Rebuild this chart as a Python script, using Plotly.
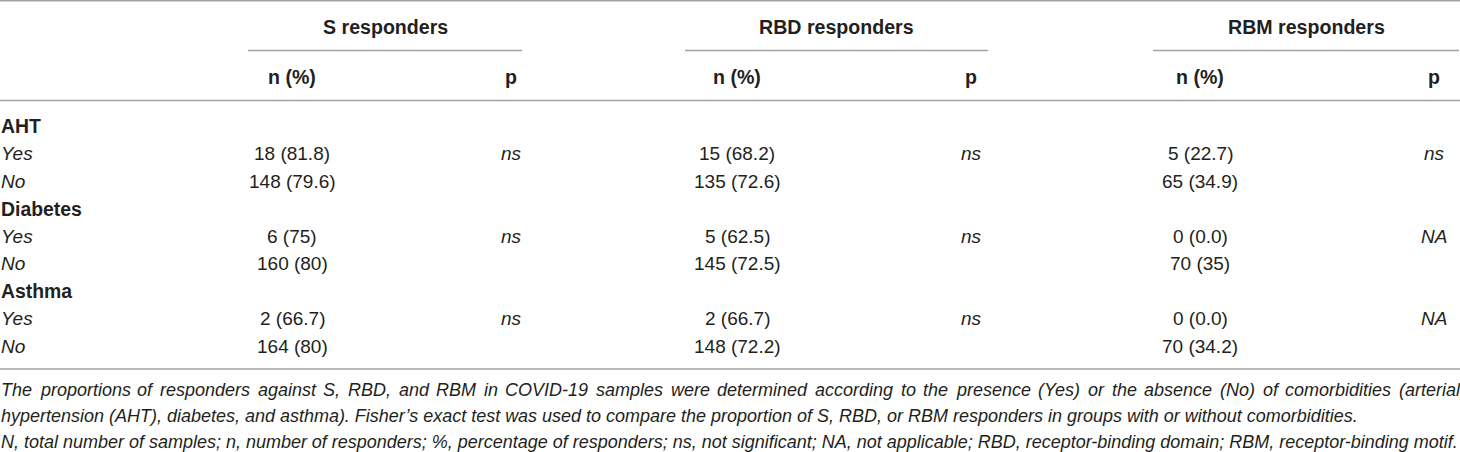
import plotly.graph_objects as go

# ---------------- data ----------------
groups = ["S responders", "RBD responders", "RBM responders"]
sub_headers = ["n (%)", "p"]
row_labels = ["AHT", "Yes", "No", "Diabetes", "Yes", "No", "Asthma", "Yes", "No"]
row_is_head = [True, False, False, True, False, False, True, False, False]

s_n = ["", "18 (81.8)", "148 (79.6)", "", "6 (75)", "160 (80)", "", "2 (66.7)", "164 (80)"]
s_p = ["", "ns", "", "", "ns", "", "", "ns", ""]
rbd_n = ["", "15 (68.2)", "135 (72.6)", "", "5 (62.5)", "145 (72.5)", "", "2 (66.7)", "148 (72.2)"]
rbd_p = ["", "ns", "", "", "ns", "", "", "ns", ""]
rbm_n = ["", "5 (22.7)", "65 (34.9)", "", "0 (0.0)", "70 (35)", "", "0 (0.0)", "70 (34.2)"]
rbm_p = ["", "ns", "", "", "NA", "", "", "NA", ""]

footnote_lines = [
    "The proportions of responders against S, RBD, and RBM in COVID-19 samples were determined according to the presence (Yes) or the absence (No) of comorbidities (arterial",
    "hypertension (AHT), diabetes, and asthma). Fisher\u2019s exact test was used to compare the proportion of S, RBD, or RBM responders in groups with or without comorbidities.",
    "N, total number of samples; n, number of responders; %, percentage of responders; ns, not significant; NA, not applicable; RBD, receptor-binding domain; RBM, receptor-binding motif.",
]
footnote_justified = [True, False, False]

# ---------------- layout constants ----------------
W, H = 1460, 452
FONT = "Liberation Sans, Arial, sans-serif"
TXT = "#231f20"
LINE = "#a3a3a3"
n_x = [292, 737, 1200]
p_x = [511, 971, 1434]
grp_span = [(248, 522), (685, 988), (1153, 1459)]
y_title, y_subline, y_sub, y_headline = 27, 50.5, 76.5, 100.5
y_row0, row_h = 126, 27.5
y_bottom = 369
y_foot0, foot_h = 390, 26

# Helvetica/Arial advance widths (1/1000 em) for the footnote justification
_w = {' ': 278, ',': 278, '.': 278, ';': 278, '(': 333, ')': 333, '-': 333, '%': 889,
      '\u2019': 222, "'": 191}
for c in "0123456789": _w[c] = 556
_w.update(dict(zip("abcdefghijklmnopqrstuvwxyz",
    [556,556,500,556,556,278,556,556,222,222,500,222,833,556,556,556,556,333,500,278,556,500,722,500,500,500])))
_w.update(dict(zip("ABCDEFGHIJKLMNOPQRSTUVWXYZ",
    [667,667,722,722,667,611,778,722,278,500,667,556,833,722,778,667,778,722,667,611,722,667,944,667,667,611])))


def em_width(s):
    return sum(_w.get(c, 556) for c in s) / 1000.0


foot_size = (W - 2) / em_width(footnote_lines[2])

fig = go.Figure()
ann = []


def add(text, x, y, size=19, xanchor="center", bold=False, italic=False, color=TXT):
    t = text
    if bold:
        t = "<b>" + t + "</b>"
    if italic:
        t = "<i>" + t + "</i>"
    ann.append(dict(text=t, x=x, y=y, xref="x", yref="y", showarrow=False,
                    xanchor=xanchor, yanchor="middle", borderpad=0,
                    font=dict(family=FONT, size=size, color=color)))


# group titles and sub headers
for g, (a, b), nx, px in zip(groups, grp_span, n_x, p_x):
    add(g, (a + b) / 2, y_title, size=19.6, bold=True)
    add(sub_headers[0], nx, y_sub, size=19.6, bold=True)
    add(sub_headers[1], px, y_sub, size=19.6, bold=True)

# body rows
cols_n = [s_n, rbd_n, rbm_n]
cols_p = [s_p, rbd_p, rbm_p]
for i, lab in enumerate(row_labels):
    y = y_row0 + i * row_h
    if row_is_head[i]:
        add(lab, 0, y, size=19.4, xanchor="left", bold=True)
    else:
        add(lab, 0, y, size=19, xanchor="left", italic=True)
    for k in range(3):
        if cols_n[k][i]:
            add(cols_n[k][i], n_x[k], y, size=19)
        if cols_p[k][i]:
            add(cols_p[k][i], p_x[k], y, size=19, italic=True)

# footnotes
for j, line in enumerate(footnote_lines):
    y = y_foot0 + j * foot_h
    if footnote_justified[j]:
        words = line.split(" ")
        ww = [em_width(w_) * foot_size for w_ in words]
        gap = (W - 1 - sum(ww)) / (len(words) - 1)
        x = 0.0
        for w_, wd in zip(words, ww):
            add(w_, x, y, size=foot_size, xanchor="left", italic=True)
            x += wd + gap
    else:
        add(line, 0, y, size=foot_size, xanchor="left", italic=True)

# rules
shapes = []
for y in (0.8, y_headline, y_bottom):
    shapes.append(dict(type="line", xref="x", yref="y", x0=0, x1=W, y0=y, y1=y,
                       line=dict(color=LINE, width=1.6)))
for a, b in grp_span:
    shapes.append(dict(type="line", xref="x", yref="y", x0=a, x1=b, y0=y_subline, y1=y_subline,
                       line=dict(color=LINE, width=1.4)))

fig.update_layout(
    width=W, height=H, margin=dict(l=0, r=0, t=0, b=0),
    paper_bgcolor="white", plot_bgcolor="white",
    xaxis=dict(range=[0, W], visible=False, fixedrange=True),
    yaxis=dict(range=[H, 0], visible=False, fixedrange=True),
    annotations=ann, shapes=shapes, showlegend=False,
)
fig.write_html(
    "out.html",
    config={"displayModeBar": False, "staticPlot": True},
    post_script="document.body.style.margin='0';document.body.style.padding='0';document.body.style.overflow='hidden';",
)
